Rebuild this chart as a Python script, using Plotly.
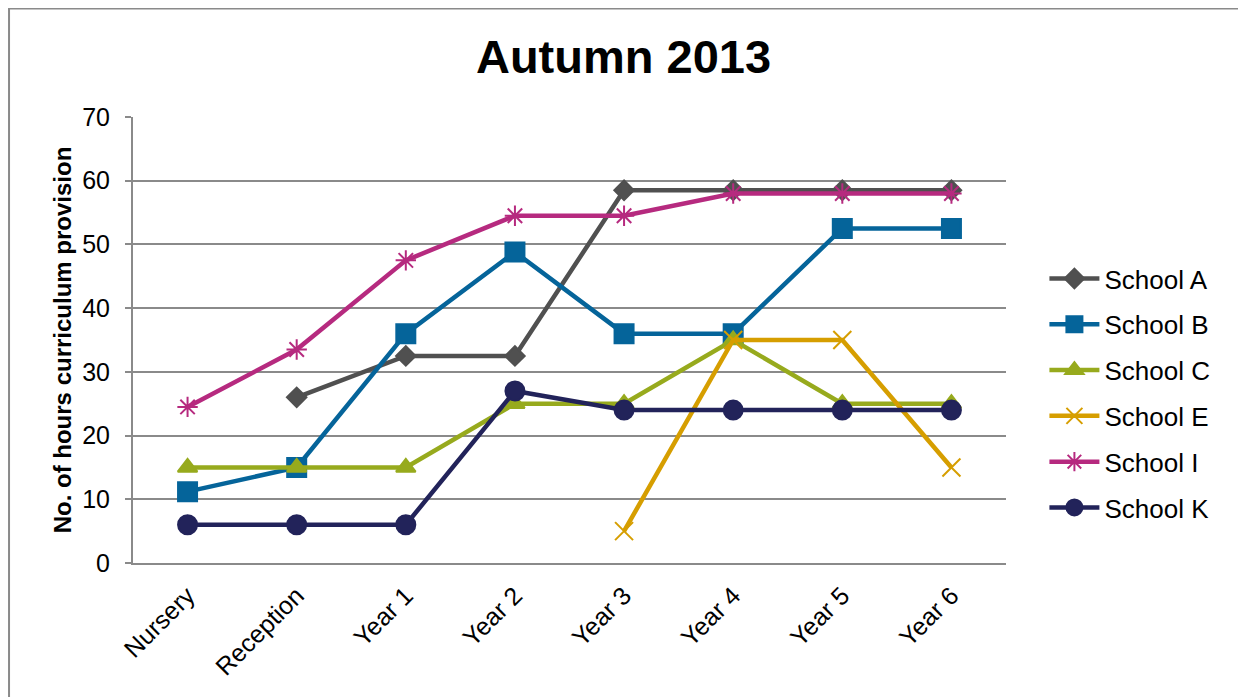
import plotly.graph_objects as go

categories = ["Nursery", "Reception", "Year 1", "Year 2", "Year 3", "Year 4", "Year 5", "Year 6"]
school_a = [None, 26, 32.5, 32.5, 58.5, 58.5, 58.5, 58.5]
school_b = [11.2, 15, 36, 48.8, 36, 36, 52.5, 52.5]
school_c = [15, 15, 15, 25, 25, 35, 25, 25]
school_e = [None, None, None, None, 5, 35, 35, 15]
school_i = [24.5, 33.5, 47.5, 54.5, 54.5, 58, 58, 58]
school_k = [6, 6, 6, 27, 24, 24, 24, 24]

series = [
    ("School A", school_a, "#505050", "diamond", 15),
    ("School B", school_b, "#05649a", "square", 19),
    ("School C", school_c, "#97aa1d", "triangle-up", 17),
    ("School E", school_e, "#d69e00", "x-thin-open", 18),
    ("School I", school_i, "#b62a7f", "asterisk-open", 17),
    ("School K", school_k, "#22235a", "circle", 19),
]

fig = go.Figure()
for name, vals, color, sym, size in series:
    fig.add_trace(go.Scatter(
        x=categories, y=vals, name=name, mode="lines+markers",
        legendgroup=name,
        line=dict(color=color, width=4.5),
        marker=dict(symbol=sym, size=size, color=color,
                    line=dict(color=color, width=2)),
        connectgaps=False,
    ))

fig.update_layout(
    width=1246, height=697,
    margin=dict(l=125, r=248, t=109, b=142),
    paper_bgcolor="white", plot_bgcolor="white",
    font=dict(family="Liberation Sans, Arial, sans-serif", color="black"),
    title=dict(text="<b>Autumn 2013</b>", x=0.494, xref="container", xanchor="center",
               y=0.930, yref="container", yanchor="middle",
               font=dict(size=47, color="black")),
    showlegend=True,
    legend=dict(x=1.044, y=0.381, xref="paper", yref="paper", xanchor="left", yanchor="middle",
                font=dict(size=26), tracegroupgap=9, itemwidth=50,
                bgcolor="rgba(0,0,0,0)"),
    xaxis=dict(type="category", range=[-0.5, 7.5], tickangle=-45,
               tickfont=dict(size=25), showgrid=False,
               showline=True, linecolor="#8a8a8a", linewidth=2,
               ticks="", zeroline=False, ticklabelstandoff=6),
    yaxis=dict(range=[0, 70], dtick=10, tickfont=dict(size=25),
               showgrid=True, gridcolor="#8a8a8a", gridwidth=2,
               showline=True, linecolor="#8a8a8a", linewidth=2,
               ticks="outside", ticklen=6, tickcolor="#8a8a8a", tickwidth=2,
               zeroline=False, ticklabelstandoff=10,
               title=dict(text="<b>No. of hours curriculum provision</b>",
                          font=dict(size=24), standoff=4)),
)

fig.add_shape(type="rect", xref="paper", yref="paper",
              x0=-0.142, x1=1.267, y0=-0.35, y1=1.2433,
              line=dict(color="#8a8a8a", width=2), fillcolor="rgba(0,0,0,0)", layer="below")

fig.write_html("out.html")
